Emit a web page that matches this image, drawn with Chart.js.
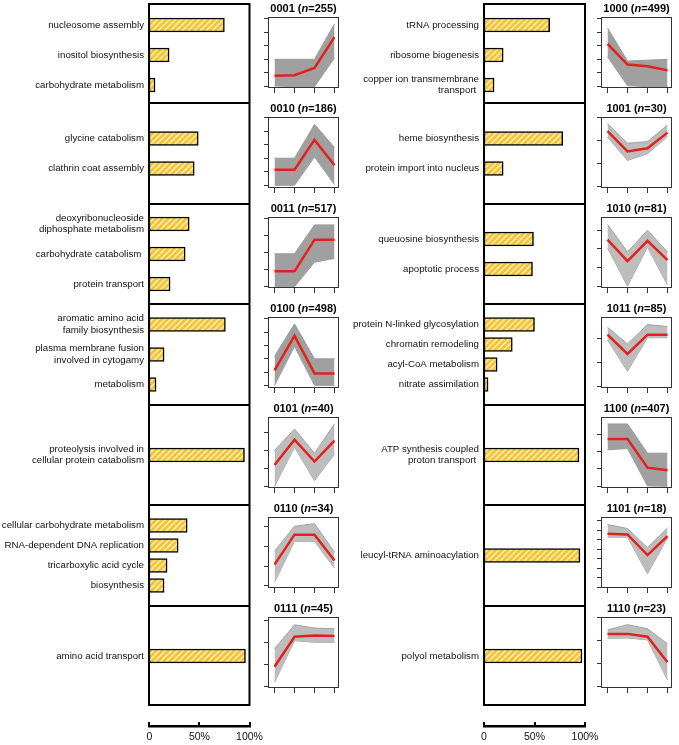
<!DOCTYPE html>
<html>
<head>
<meta charset="utf-8">
<script src="https://cdn.jsdelivr.net/npm/chart.js@4.4.1/dist/chart.umd.min.js"></script>
<style>
  body { margin: 0; background: #fff; }
  #fig { position: relative; width: 679px; height: 745px; }
  #fig canvas { position: absolute; }
</style>
</head>
<body>
<div id="fig"></div>
<script>
// clusters: left column 0001..0111, right column 1000..1110
const clusters = ['0001','0010','0011','0100','0101','0110','0111','1000','1001','1010','1011','1100','1101','1110'];
const clusterSizes = [255,186,517,498,40,34,45,499,30,81,85,407,18,23];

// enriched GO terms per cluster (\n = line break, trailing spaces kept as in original)
const goTerms = [
  ['nucleosome assembly','inositol biosynthesis','carbohydrate metabolism'],
  ['glycine catabolism','clathrin coat assembly'],
  ['deoxyribonucleoside\ndiphosphate metabolism','carbohydrate catabolism ','protein transport'],
  ['aromatic amino acid\nfamily biosynthesis','plasma membrane fusion\ninvolved in cytogamy','metabolism'],
  ['proteolysis involved in\ncellular protein catabolism'],
  ['cellular carbohydrate metabolism','RNA-dependent DNA replication','tricarboxylic acid cycle','biosynthesis'],
  ['amino acid transport'],
  ['tRNA processing','ribosome biogenesis','copper ion transmembrane\ntransport '],
  ['heme biosynthesis','protein import into nucleus'],
  ['queuosine biosynthesis','apoptotic process'],
  ['protein N-linked glycosylation','chromatin remodeling','acyl-CoA metabolism','nitrate assimilation'],
  ['ATP synthesis coupled\nproton transport '],
  ['leucyl-tRNA aminoacylation'],
  ['polyol metabolism']
];
const goPercents = [
  [75,20,6],
  [49,45],
  [40,36,21],
  [76,15,7],
  [95],
  [38,29,18,15],
  [96],
  [65,19,10],
  [78,19],
  [49,48],
  [50,28,13,4],
  [94],
  [95],
  [97]
];

// expression profiles (4 time points), arbitrary units = y tick steps
const meanProfile = [
  [0.8,0.84,1.37,3.63],
  [1.15,1.15,3.36,1.48],
  [0.9,0.9,2.73,2.73],
  [1.12,3.73,0.9,0.9],
  [1.2,2.6,1.39,2.55],
  [1.07,2.6,2.6,1.28],
  [0.9,2.25,2.31,2.28],
  [3.13,1.62,1.49,1.19],
  [2.41,1.52,1.66,2.34],
  [2.5,1.35,2.43,1.4],
  [2.18,1.37,2.18,2.18],
  [2.72,2.72,1.07,0.92],
  [5.6,5.53,3.36,5.36],
  [2.28,2.28,2.16,1.05]
];
const upperProfile = [
  [2.0,2.0,2.0,4.6],
  [2.0,2.0,4.5,2.8],
  [1.92,1.92,3.6,3.6],
  [2.19,4.63,2.0,2.0],
  [2.0,3.2,1.85,3.48],
  [1.75,3.03,3.16,1.7],
  [1.7,2.79,2.64,2.61],
  [4.3,1.87,1.94,2.0],
  [2.74,1.88,1.95,2.67],
  [3.31,1.84,3.0,1.84],
  [2.49,1.79,2.6,2.52],
  [3.58,3.58,1.9,1.9],
  [6.58,6.16,4.13,6.23],
  [2.45,2.68,2.5,1.85]
];
const lowerProfile = [
  [0.05,0,0,2.1],
  [0,0,2.1,0.05],
  [0,0,1.43,1.65],
  [0,2.93,0,0],
  [0,2.18,0.33,1.8],
  [0.17,2.26,2.26,0.9],
  [0.2,2.07,2.0,2.0],
  [2.19,0.07,0,0],
  [2.14,1.13,1.42,2.17],
  [2.05,0.02,2.1,0.07],
  [1.96,0.64,2.05,2.05],
  [2.09,2.17,0.02,0],
  [5.25,5.25,1.4,5.18],
  [2.09,2.1,2.02,0.29]
];
const timePoints = [1,2,3,4];
const yTickCounts = [6,6,5,6,4,4,4,6,4,4,3,4,8,4];
const yLimits = [
  [-0.1,5.1],[-0.2,5.05],[-0.07,4.06],[-0.2,5.15],[-0.08,3.86],[-0.12,3.5],[-0.06,3.14],
  [-0.1,5.1],[-0.07,3.02],[-0.08,3.7],[-0.06,2.92],[-0.1,3.98],[-0.1,7.37],[-0.06,3.01]
];
const axisTicks = [0,50,100];
const axisTickLabels = ['0','50%','100%'];

const FONT = '"Liberation Sans", Arial, Helvetica, sans-serif';
Chart.defaults.font.family = FONT;
Chart.defaults.color = '#111';

const fig = document.getElementById('fig');
function addCanvas(x, y, w, h) {
  const c = document.createElement('canvas');
  c.width = w; c.height = h;
  c.style.left = x + 'px'; c.style.top = y + 'px';
  c.style.width = w + 'px'; c.style.height = h + 'px';
  fig.appendChild(c);
  return c;
}

function hatchPattern() {
  const c = document.createElement('canvas');
  c.width = 6; c.height = 6;
  const g = c.getContext('2d');
  g.fillStyle = '#f3c535';
  g.fillRect(0, 0, 6, 6);
  g.strokeStyle = '#fdf1c4';
  g.lineWidth = 1.4;
  g.beginPath();
  g.moveTo(-1, 7); g.lineTo(7, -1);
  g.moveTo(-4, 4); g.lineTo(4, -4);
  g.moveTo(2, 10); g.lineTo(10, 2);
  g.stroke();
  return g.createPattern(c, 'repeat');
}
const hatch = hatchPattern();

// black frame of a bar panel (panels are stacked, so top/bottom lines are shared)
const panelBox = {
  id: 'panelBox',
  afterDraw(chart, args, o) {
    const { ctx, chartArea: a, height } = chart;
    ctx.save();
    ctx.strokeStyle = '#000';
    ctx.lineWidth = 2;
    const t = o.first ? 1 : 0, b = o.last ? height - 1 : height;
    ctx.beginPath();
    ctx.moveTo(a.left, t); ctx.lineTo(a.left, b);
    ctx.moveTo(a.right, t); ctx.lineTo(a.right, b);
    ctx.moveTo(a.left - 1, t); ctx.lineTo(a.right + 1, t);
    ctx.moveTo(a.left - 1, b); ctx.lineTo(a.right + 1, b);
    ctx.stroke();
    ctx.restore();
  }
};

// box + "0001 (n=255)" title of a profile panel
const profileFrame = {
  id: 'profileFrame',
  afterDatasetsDraw(chart, args, o) {
    const { ctx, chartArea: a } = chart;
    ctx.save();
    ctx.strokeStyle = '#333';
    ctx.lineWidth = 1;
    ctx.strokeRect(a.left + 0.5, a.top + 0.5, a.right - a.left - 1, a.bottom - a.top - 1);
    const parts = [
      [o.id + ' (', 'bold 11px ' + FONT],
      ['n', 'italic bold 11px ' + FONT],
      ['=' + o.n + ')', 'bold 11px ' + FONT]
    ];
    let total = 0;
    parts.forEach(p => { ctx.font = p[1]; total += ctx.measureText(p[0]).width; });
    let x = (a.left + a.right) / 2 - total / 2;
    ctx.fillStyle = '#000';
    ctx.textBaseline = 'alphabetic';
    parts.forEach(p => {
      ctx.font = p[1];
      ctx.fillText(p[0], x, a.top - 5);
      x += ctx.measureText(p[0]).width;
    });
    ctx.restore();
  }
};

const panelTops = [];
for (let r = 0; r <= 7; r++) panelTops.push(Math.round(3 + r * 100.43));

clusters.forEach((id, i) => {
  const col = i < 7 ? 0 : 1;
  const row = i % 7;

  // ---- GO term bars ----
  const top = panelTops[row];
  const h = panelTops[row + 1] - top;
  const n = goPercents[i].length;
  const spacing = n >= 4 ? 20 : 30;
  const pad = (h - n * spacing) / 2;
  const shift = row === 0 ? 2 : 0; // first row sits a little lower in the original
  const bx = col === 0 ? 0 : 340;
  const labelW = col === 0 ? 149 : 144;
  const bw = col === 0 ? 252 : 248;
  const cv = addCanvas(bx, top, bw, h);
  new Chart(cv, {
    type: 'bar',
    data: {
      labels: goTerms[i].map(s => s.split('\n')),
      datasets: [{
        data: goPercents[i],
        backgroundColor: hatch,
        borderColor: '#000',
        borderWidth: 1.5,
        borderSkipped: false,
        barThickness: 14
      }]
    },
    options: {
      indexAxis: 'y',
      responsive: false,
      animation: false,
      events: [],
      layout: { padding: { top: pad + shift, bottom: pad - shift, left: 0, right: col === 0 ? 2.5 : 3 } },
      scales: {
        x: { display: false, min: 0, max: 100 },
        y: {
          afterFit: s => { s.width = labelW; s.paddingTop = 0; s.paddingBottom = 0; },
          grid: { display: false, drawTicks: false },
          border: { display: false },
          ticks: { padding: 5, color: '#111', font: { size: 9.7, lineHeight: 1.18 } }
        }
      },
      plugins: {
        legend: { display: false },
        tooltip: { enabled: false },
        panelBox: { first: row === 0, last: row === 6 }
      }
    },
    plugins: [panelBox]
  });

  // ---- expression profile ----
  const boxLeft = col === 0 ? 268 : 601;
  const boxTop = 17 + 100 * row;
  const pc = addCanvas(boxLeft - 10, boxTop - 17, 85, 96);
  const dense = clusterSizes[i] > 100;
  const pts = arr => arr.map((v, k) => ({ x: timePoints[k], y: v }));
  const yt = [];
  for (let k = 0; k < yTickCounts[i]; k++) yt.push(k);
  new Chart(pc, {
    type: 'line',
    data: {
      datasets: [
        { data: pts(meanProfile[i]), borderColor: '#e2211c', borderWidth: 2.5, pointRadius: 0, fill: false, order: 0 },
        { data: pts(upperProfile[i]), borderColor: dense ? '#9a9a9a' : '#a3a3a3', borderWidth: 1, pointRadius: 0,
          fill: '+1', backgroundColor: dense ? '#a0a0a0' : '#bdbdbd', order: 1 },
        { data: pts(lowerProfile[i]), borderColor: dense ? '#9a9a9a' : '#a3a3a3', borderWidth: 1, pointRadius: 0, fill: false, order: 2 }
      ]
    },
    options: {
      responsive: false,
      animation: false,
      events: [],
      layout: { padding: { top: 17, left: 4, right: 4, bottom: 2 } },
      scales: {
        x: {
          type: 'linear', min: 0.675, max: 4.225,
          afterBuildTicks: s => { s.ticks = timePoints.map(v => ({ value: v })); },
          afterFit: s => { s.height = 6; },
          ticks: { display: false },
          grid: { drawOnChartArea: false, tickLength: 5, color: '#333' },
          border: { display: false }
        },
        y: {
          min: yLimits[i][0], max: yLimits[i][1],
          afterBuildTicks: s => { s.ticks = yt.map(v => ({ value: v })); },
          afterFit: s => { s.width = 6; },
          ticks: { display: false },
          grid: { drawOnChartArea: false, tickLength: 4, color: '#333' },
          border: { display: false }
        }
      },
      plugins: {
        legend: { display: false },
        tooltip: { enabled: false },
        profileFrame: { id: id, n: clusterSizes[i] }
      }
    },
    plugins: [profileFrame]
  });
});

// ---- shared percentage axes under each bar column ----
[0, 1].forEach(col => {
  const ac = addCanvas(col === 0 ? 0 : 340, 715, 270, 30);
  new Chart(ac, {
    type: 'line',
    data: { datasets: [] },
    options: {
      responsive: false,
      animation: false,
      events: [],
      layout: { padding: { top: 7, bottom: 0, left: col === 0 ? 149.3 : 144, right: col === 0 ? 20.5 : 25 } },
      scales: {
        x: {
          type: 'linear', min: 0, max: 100,
          afterBuildTicks: s => { s.ticks = axisTicks.map(v => ({ value: v })); },
          afterFit: s => { s.height = 19; },
          grid: { drawOnChartArea: true, drawTicks: false, color: '#000', lineWidth: 2 },
          border: { display: true, color: '#000', width: 2.5 },
          ticks: {
            padding: 5, color: '#111', font: { size: 10.5 },
            callback: (v) => axisTickLabels[axisTicks.indexOf(v)]
          }
        },
        y: { display: false, min: 0, max: 1 }
      },
      plugins: { legend: { display: false }, tooltip: { enabled: false } }
    }
  });
});
</script>
</body>
</html>
